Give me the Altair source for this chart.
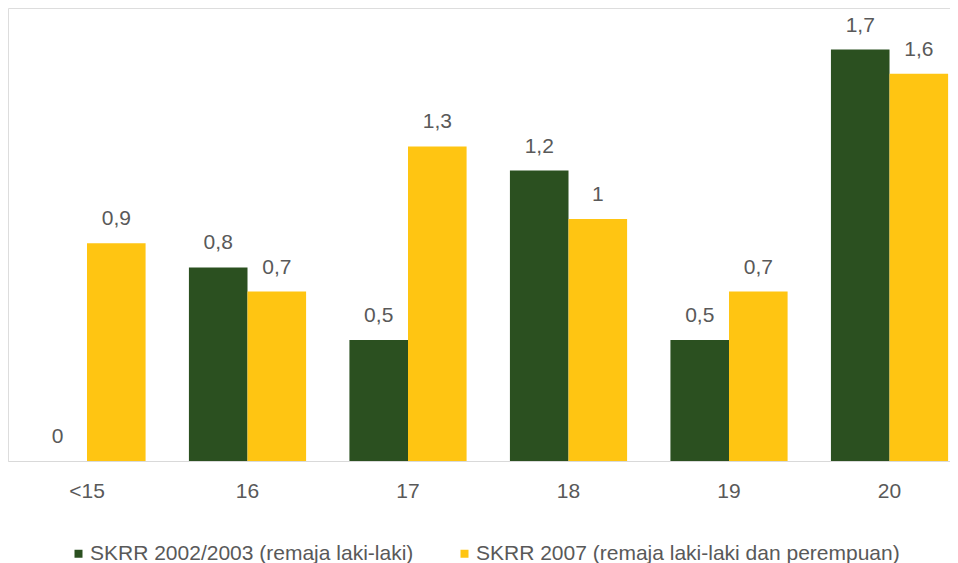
import altair as alt
import pandas as pd

categories = ["<15", "16", "17", "18", "19", "20"]
series_names = ["SKRR 2002/2003 (remaja laki-laki)", "SKRR 2007 (remaja laki-laki dan perempuan)"]
skrr_2002 = [0, 0.8, 0.5, 1.2, 0.5, 1.7]
skrr_2007 = [0.9, 0.7, 1.3, 1.0, 0.7, 1.6]
colors = ["#2b5020", "#ffc512"]

def fmt(v):
    s = ("%g" % v).replace(".", ",")
    return s

rows = []
for i, c in enumerate(categories):
    rows.append({"cat": c, "series": series_names[0], "order": 0, "value": skrr_2002[i], "label": fmt(skrr_2002[i])})
    rows.append({"cat": c, "series": series_names[1], "order": 1, "value": skrr_2007[i], "label": fmt(skrr_2007[i])})
df = pd.DataFrame(rows)

FONT = "Liberation Sans"
TXT = "#595959"

x = alt.X("cat:N", sort=categories, title=None,
          scale=alt.Scale(paddingInner=0.27, paddingOuter=0.0695, align=0.915),
          axis=alt.Axis(labelAngle=0, ticks=False, domainColor="#d9d9d9", domainWidth=1,
                        labelFont=FONT, labelFontSize=21, labelColor=TXT, labelPadding=19,
                        grid=False))
y = alt.Y("value:Q", scale=alt.Scale(domain=[0, 1.872], nice=False, zero=True), axis=None)
xo = alt.XOffset("series:N", sort=series_names, scale=alt.Scale(paddingInner=0, paddingOuter=0))

bars = alt.Chart(df).mark_bar().encode(
    x=x, y=y, xOffset=xo,
    color=alt.Color("series:N", sort=series_names,
                    scale=alt.Scale(domain=series_names, range=colors),
                    legend=alt.Legend(title=None, orient="none", legendX=60, legendY=535,
                                      direction="horizontal", columns=2, columnPadding=40,
                                      symbolType="square", symbolSize=64, symbolStrokeWidth=0,
                                      labelFont=FONT, labelFontSize=21, labelColor=TXT,
                                      labelOffset=1, labelLimit=0, padding=0)),
)

labels = alt.Chart(df).mark_text(baseline="bottom", dy=-14, font=FONT, fontSize=21, color=TXT).encode(
    x=x, y=y, xOffset=xo, text="label:N"
)

chart = (bars + labels).properties(
    width=942, height=453,
    padding={"left": 0, "top": 0, "right": 0, "bottom": 102},
    autosize=alt.AutoSizeParams(type="none")
).configure_view(strokeWidth=0, stroke="transparent").configure(background="white")

chart.save("out.html", embed_options={"renderer": "svg", "actions": False})
